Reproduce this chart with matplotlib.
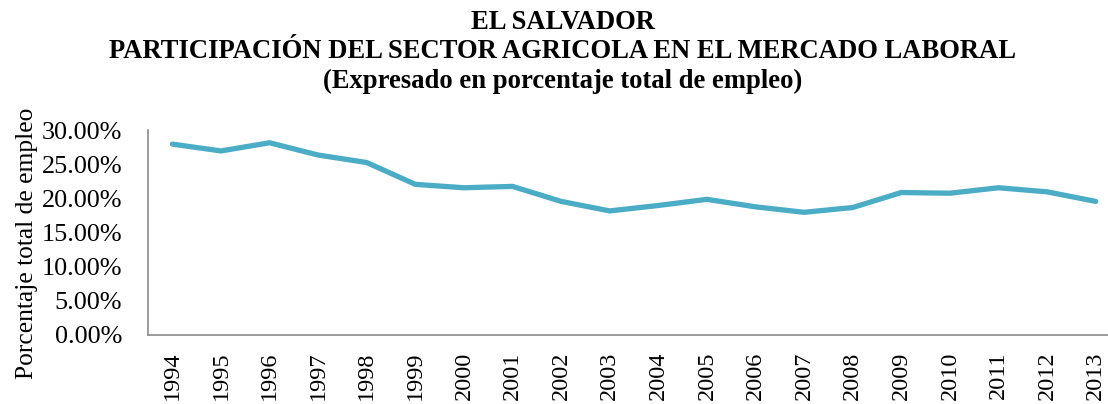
import matplotlib.pyplot as plt
from matplotlib.ticker import PercentFormatter

# Agricultural sector share of total employment, El Salvador
years = [1994, 1995, 1996, 1997, 1998, 1999, 2000, 2001, 2002, 2003,
         2004, 2005, 2006, 2007, 2008, 2009, 2010, 2011, 2012, 2013]
share = [28.0, 27.0, 28.2, 26.4, 25.3, 22.1, 21.6, 21.8, 19.6, 18.2,
         19.0, 19.9, 18.8, 18.0, 18.7, 20.9, 20.8, 21.6, 21.0, 19.6]

plt.rcParams['font.family'] = ['Liberation Serif', 'DejaVu Serif']

fig = plt.figure(figsize=(11.08, 4.04), dpi=100)
ax = fig.add_axes([0.1336, 0.1708, 0.8772, 0.5062])

x = list(range(len(years)))
ax.plot(x, share, color='#4BACC6', linewidth=3.8, solid_capstyle='round')

ax.set_xlim(-0.5, len(years) - 0.5)
ax.set_ylim(0, 30)
ax.set_yticks([0, 5, 10, 15, 20, 25, 30])
ax.yaxis.set_major_formatter(PercentFormatter(decimals=2))
ax.set_xticks(x)
ax.set_xticklabels([str(y) for y in years], rotation=90)

ax.tick_params(axis='both', length=0)
ax.tick_params(axis='y', pad=18.5, labelsize=18.8)
ax.tick_params(axis='x', pad=12, labelsize=17.5)

for side in ['top', 'right']:
    ax.spines[side].set_visible(False)
for side in ['left', 'bottom']:
    ax.spines[side].set_color('#8c8c8c')
    ax.spines[side].set_linewidth(1.2)

ax.set_ylabel('Porcentaje total de empleo', fontsize=18.4)
ax.yaxis.set_label_coords(-0.113, 0.45)

fig.text(0.508, 0.975,
         'EL SALVADOR\nPARTICIPACIÓN DEL SECTOR AGRICOLA EN EL MERCADO LABORAL\n'
         '(Expresado en porcentaje total de empleo)',
         ha='center', va='top', fontsize=19.2, fontweight='bold', linespacing=1.22)

fig.savefig('out.png', dpi=100)
